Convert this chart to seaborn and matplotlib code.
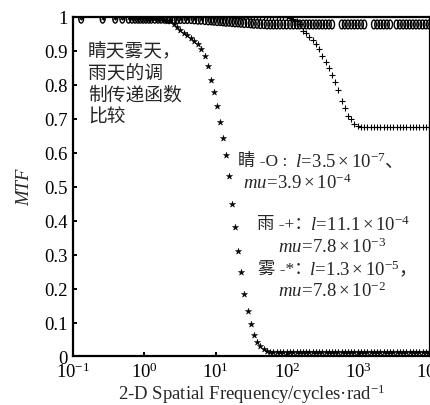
import numpy as np
import matplotlib
matplotlib.use("Agg")
import matplotlib.pyplot as plt
import seaborn as sns
from matplotlib.path import Path
from matplotlib.transforms import Affine2D
from matplotlib.ticker import FixedLocator, FixedFormatter, NullLocator

# spatial frequency samples (cycles/rad)
freq = [0.13, 0.26, 0.39, 0.49, 0.6, 0.67, 0.74, 0.81, 0.88, 0.96,
        1.05, 1.15, 1.25, 1.4, 1.55, 1.7, 1.9, 2.1, 2.3, 2.6,
        2.9, 3.2, 3.6, 4.0, 4.5, 5.0, 5.6, 6.2, 7.0, 7.8,
        8.6, 9.4, 10.4, 11.5, 12.6, 13.8, 15.2, 16.8, 18.5, 20.5,
        22.5, 25, 28, 31, 34, 38, 42, 47, 52, 58,
        64, 71, 79, 88, 98, 110, 122, 136, 150, 167,
        185, 205, 228, 253, 280, 310, 345, 383, 425, 470,
        520, 580, 640, 710, 790, 875, 970, 1080, 1200, 1330,
        1480, 1640, 1820, 2020, 2240, 2490, 2760, 3070, 3400, 3780,
        4200, 4660, 5170, 5740, 6370, 7070, 7850, 8720, 9680]

# sunny (-O)
mtf_sunny = [0.995, 0.995, 0.995, 0.995, 0.995, 0.995, 0.995, 0.995, 0.995, 0.995,
             0.995, 0.995, 0.995, 0.995, 0.995, 0.995, 0.995, 0.995, 0.995, 0.994,
             0.994, 0.994, 0.994, 0.994, 0.994, 0.993, 0.992, 0.992, 0.991, 0.990,
             0.990, 0.989, 0.988, 0.988, 0.987, 0.986, 0.986, 0.985, 0.984, 0.984,
             0.983, 0.982, 0.982, 0.981, 0.980, 0.980, 0.979, 0.979, 0.978, 0.978,
             0.978, 0.978, 0.978, 0.978, 0.978, 0.978, 0.978, 0.978, 0.978, 0.978,
             0.978, 0.978, 0.978, 0.978, 0.978, 0.978, 0.978, 0.978, 0.978, np.nan,
             np.nan, 0.978, 0.978, 0.978, 0.978, 0.978, 0.978, 0.978, 0.978, np.nan,
             np.nan, 0.978, 0.978, 0.978, 0.978, 0.978, 0.978, np.nan, 0.978, 0.978,
             0.978, 0.978, 0.978, 0.978, 0.978, 0.978, 0.978, 0.978, 0.978]

# rain (-+)
mtf_rain = [1.0, 1.0, 1.0, 1.0, 1.0, 1.0, 1.0, 1.0, 1.0, 1.0,
            1.0, 1.0, 1.0, 1.0, 1.0, 1.0, 1.0, 1.0, 1.0, 1.0,
            1.0, 1.0, 1.0, 1.0, 1.0, 1.0, 1.0, 1.0, 1.0, 1.0,
            1.0, 1.0, 1.0, 1.0, 1.0, 1.0, 1.0, 1.0, 1.0, 1.0,
            1.0, 1.0, 1.0, 1.0, 1.0, 1.0, 1.0, 1.0, 1.0, 1.0,
            1.0, 1.0, 1.0, 1.0, 1.0, 0.998, 0.995, 0.988, 0.978, 0.960,
            0.952, 0.942, 0.932, 0.921, 0.906, 0.886, 0.868, 0.851, 0.829, 0.808,
            0.785, 0.752, 0.731, 0.709, 0.700, 0.686, 0.679, 0.675, 0.675, 0.675,
            0.675, 0.675, 0.675, 0.675, 0.675, 0.675, 0.675, 0.675, 0.675, 0.675,
            0.675, 0.675, 0.675, 0.675, 0.675, 0.675, 0.675, 0.675, 0.675]

# fog (-*)
mtf_fog = [1.0, 1.0, 1.0, 1.0, 1.0, 1.0, 1.0, 1.0, 0.999, 0.999,
           0.998, 0.998, 0.997, 0.996, 0.995, 0.993, 0.991, 0.989, 0.987, 0.979,
           0.970, 0.962, 0.953, 0.946, 0.937, 0.929, 0.919, 0.907, 0.884, 0.855,
           0.813, 0.778, 0.737, 0.690, 0.645, 0.594, 0.533, 0.448, 0.380, 0.310,
           0.250, 0.185, 0.135, 0.095, 0.064, 0.042, 0.030, 0.021, 0.016, 0.014,
           0.013, 0.013, 0.013, 0.013, 0.013, 0.013, 0.013, 0.013, 0.013, 0.013,
           0.013, 0.013, 0.013, 0.013, 0.013, 0.013, 0.013, 0.013, 0.013, 0.013,
           0.013, 0.013, 0.013, 0.013, 0.013, 0.013, 0.013, 0.013, 0.013, 0.013,
           0.013, 0.013, 0.013, 0.013, 0.013, 0.013, 0.013, 0.013, 0.013, 0.013,
           0.013, 0.013, 0.013, 0.013, 0.013, 0.013, 0.013, 0.013, 0.013]

yticks = [0, 0.1, 0.2, 0.3, 0.4, 0.5, 0.6, 0.7, 0.8, 0.9, 1]
ytick_labels = ["0", "0.1", "0.2", "0.3", "0.4", "0.5", "0.6", "0.7", "0.8", "0.9", "1"]
xticks = [0.1, 1, 10, 100, 1000, 10000]
xtick_labels = [r"$10^{-1}$", r"$10^{0}$", r"$10^{1}$", r"$10^{2}$", r"$10^{3}$", r"$10^{4}$"]

sns.set_theme(style="ticks")
plt.rcParams["font.family"] = ["Liberation Serif", "Noto Sans CJK SC", "DejaVu Sans"]
plt.rcParams["mathtext.fontset"] = "custom"
plt.rcParams["mathtext.rm"] = "Liberation Serif"
plt.rcParams["mathtext.it"] = "Liberation Serif:italic"
plt.rcParams["mathtext.bf"] = "Liberation Serif:bold"

fig = plt.figure(figsize=(4.31, 4.06), dpi=100)
ax = fig.add_axes([0.1694, 0.1195, 0.8283, 0.8362])

ell = Path.unit_circle().transformed(Affine2D().scale(0.55, 1.0))

sns.scatterplot(x=freq, y=mtf_fog, marker="*", s=22, color="black",
                edgecolor="black", linewidth=0.3, ax=ax, zorder=3)
sns.scatterplot(x=freq, y=mtf_rain, marker="+", s=22, color="black",
                linewidth=0.8, ax=ax, zorder=3)
sns.scatterplot(x=freq, y=mtf_sunny, marker=ell, s=40, color="black",
                facecolors="none", edgecolor="black", linewidth=1.0, ax=ax, zorder=4)

ax.set_xscale("log")
ax.set_xlim(0.1, 10000)
ax.set_ylim(0, 1)
ax.xaxis.set_major_locator(FixedLocator(xticks))
ax.xaxis.set_major_formatter(FixedFormatter(xtick_labels))
ax.xaxis.set_minor_locator(NullLocator())
ax.yaxis.set_major_locator(FixedLocator(yticks))
ax.yaxis.set_major_formatter(FixedFormatter(ytick_labels))

for s in ax.spines.values():
    s.set_linewidth(1.6)
    s.set_color("black")
ax.tick_params(direction="in", length=3, width=1.4, labelsize=13.5, colors="black", pad=4)
ax.tick_params(axis="x", pad=4)

ax.set_ylabel("MTF", fontsize=13.5, fontstyle="italic", labelpad=8)
ax.set_xlabel("2-D Spatial Frequency/cycles\u00b7rad$^{-1}$", fontsize=13.5, labelpad=0)

ax.text(0.042, 0.935, "睛天雾天，\n雨天的调\n制传递函数\n比较", transform=ax.transAxes,
        ha="left", va="top", fontsize=13.5, family=["Noto Sans CJK SC"], linespacing=1.07)

mixed = ["Liberation Serif", "Noto Sans CJK SC", "DejaVu Sans"]
cjk = ["Noto Sans CJK SC", "DejaVu Sans"]
serif = ["Liberation Serif", "DejaVu Sans"]
lab_size = 12.5
math_size = 13.5

ax.text(0.462, 0.576, "睛 -O :", transform=ax.transAxes,
        ha="left", va="center", fontsize=lab_size, family=mixed)
ax.text(0.622, 0.576, r"$\mathit{l}\!=\!3.5\times10^{-7}$、", transform=ax.transAxes,
        ha="left", va="center", fontsize=math_size, family=cjk)
ax.text(0.476, 0.514, r"$mu\!=\!3.9\times10^{-4}$", transform=ax.transAxes,
        ha="left", va="center", fontsize=math_size, family=serif)

ax.text(0.515, 0.390, "雨 -+：", transform=ax.transAxes,
        ha="left", va="center", fontsize=lab_size, family=mixed)
ax.text(0.665, 0.390, r"$\mathit{l}\!=\!11.1\times10^{-4}$", transform=ax.transAxes,
        ha="left", va="center", fontsize=math_size, family=serif)
ax.text(0.574, 0.325, r"$mu\!=\!7.8\times10^{-3}$", transform=ax.transAxes,
        ha="left", va="center", fontsize=math_size, family=serif)

ax.text(0.518, 0.258, "雾 -*：", transform=ax.transAxes,
        ha="left", va="center", fontsize=lab_size, family=mixed)
ax.text(0.662, 0.258, r"$\mathit{l}\!=\!1.3\times10^{-5}$，", transform=ax.transAxes,
        ha="left", va="center", fontsize=math_size, family=cjk)
ax.text(0.574, 0.196, r"$mu\!=\!7.8\times10^{-2}$", transform=ax.transAxes,
        ha="left", va="center", fontsize=math_size, family=serif)

fig.savefig("out.png", dpi=100)
